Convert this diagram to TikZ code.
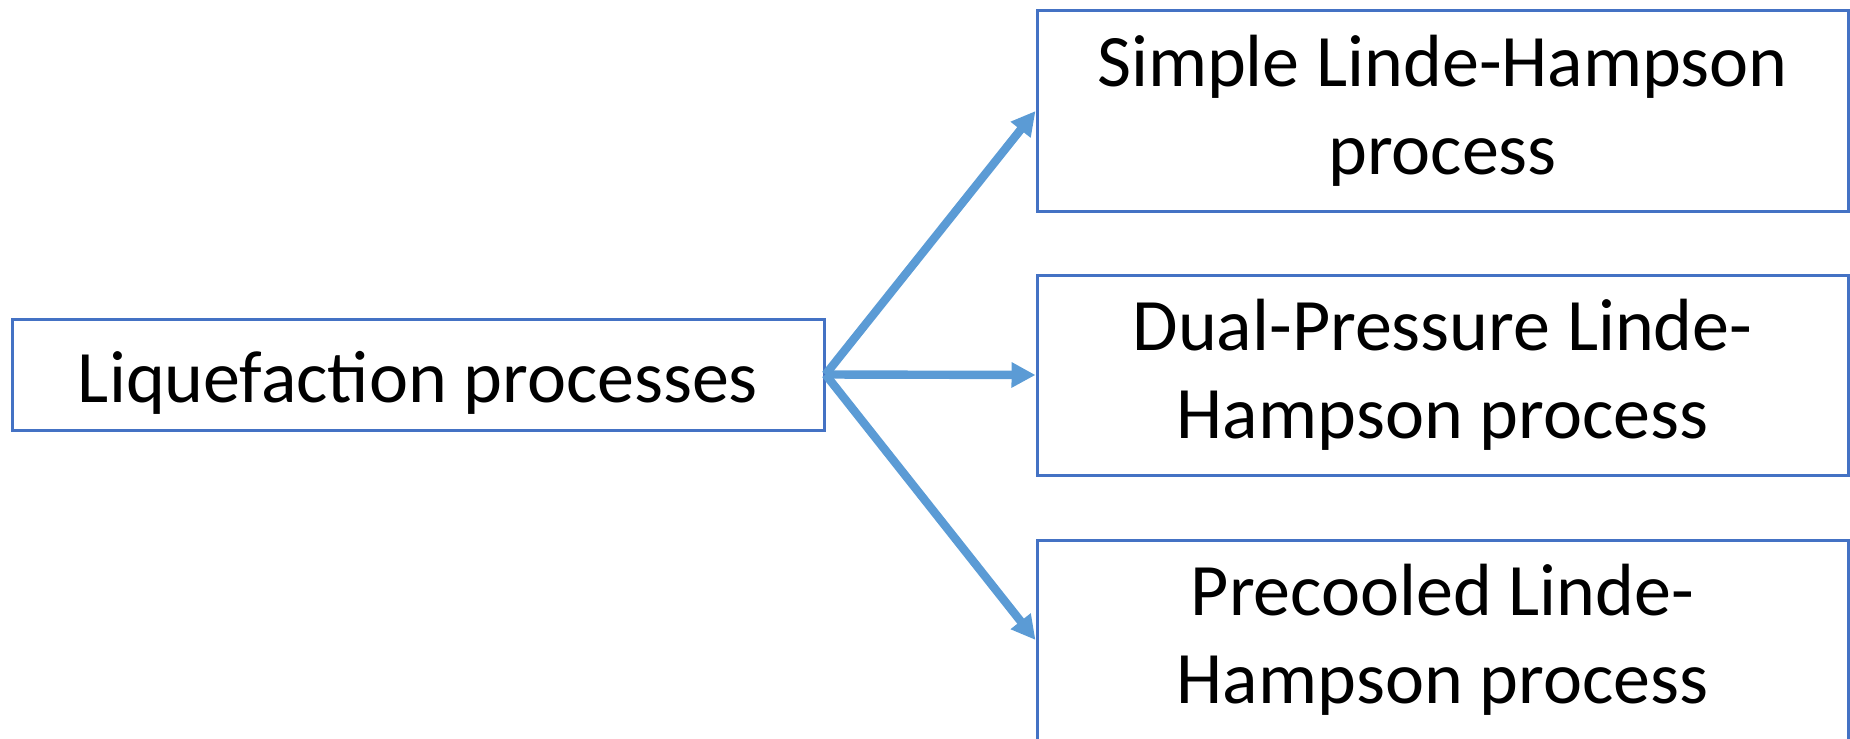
\documentclass[tikz,border=0pt]{standalone}
\usepackage{fontspec}
\setmainfont{Carlito}
\usetikzlibrary{arrows.meta}

\definecolor{boxblue}{HTML}{4472C4}
\definecolor{arrowblue}{HTML}{5B9BD5}

\tikzset{
    procbox/.style={draw=boxblue, line width=1.5pt, fill=white, align=center,
        font=\fontsize{37}{44}\selectfont, inner sep=0pt,
        execute at begin node={\rule{0pt}{34pt}}},
    flow/.style={draw=arrowblue, line width=4.2pt,
        -{Triangle[length=12pt, width=12pt]}},
}

\begin{document}
\begin{tikzpicture}[x=0.5pt, y=-0.5pt]
        \useasboundingbox (0, 0) rectangle (1850, 738);
        \clip (0, 0) rectangle (1850, 738);

        \node[procbox, minimum width=406pt, minimum height=55.5pt] (liq) at (418, 374.5) {Liquefaction processes};

        \node[procbox, minimum width=405.5pt, minimum height=100pt] (simple) at (1442.5, 111) {Simple Linde-Hampson\\process};
        \node[procbox, minimum width=405.5pt, minimum height=100pt] (dual) at (1442.5, 375) {Dual-Pressure Linde-\\Hampson process};
        \node[procbox, minimum width=405.5pt, minimum height=100pt] (precool) at (1442.5, 640) {Precooled Linde-\\Hampson process};

        \draw[flow] (liq.east) -- (simple.west);
        \draw[flow] (liq.east) -- (dual.west);
        \draw[flow] (liq.east) -- (precool.west);
    \end{tikzpicture}
\end{document}
